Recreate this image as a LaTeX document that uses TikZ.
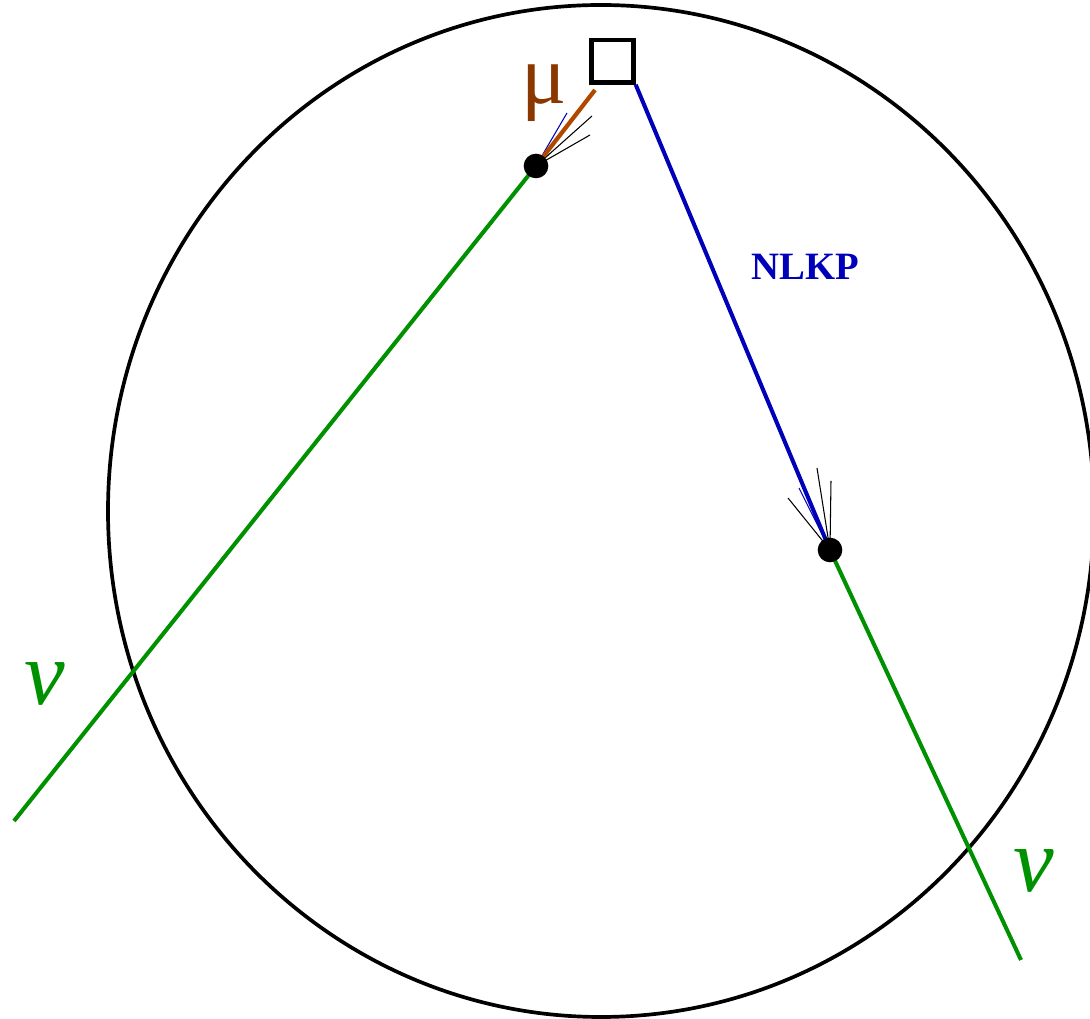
\documentclass[tikz,border=0pt]{standalone}
\usepackage{fontspec}
\setmainfont{Liberation Serif}
\begin{document}
\begin{tikzpicture}[x=0.01cm,y=-0.01cm,
  ring/.style={line width=1.05pt,black},
  nuline/.style={line width=1.15pt,draw={rgb,255:red,0;green,145;blue,0}},
  nlkpline/.style={line width=1.15pt,draw={rgb,255:red,0;green,0;blue,185}},
  muline/.style={line width=1.2pt,draw={rgb,255:red,176;green,72;blue,0}},
  thin/.style={line width=0.3pt,black},
  thinblue/.style={line width=0.3pt,draw={rgb,255:red,0;green,0;blue,185}},
  vtx/.style={circle,fill=black,inner sep=0pt,minimum size=7pt},
  nulabel/.style={text={rgb,255:red,0;green,145;blue,0},font=\itshape\fontsize{26}{26}\selectfont},
]
\useasboundingbox (0,0) rectangle (1090,1019);
\draw[ring] (601,511) ellipse [x radius=493, y radius=506];
\node[draw,line width=1.2pt,minimum size=12pt,inner sep=0pt] (box) at (612.5,61.5) {};
\coordinate (A) at (536,166);
\coordinate (B) at (830,550);
\coordinate (Lend) at (14,821);
\coordinate (Rend) at (1021,960);
\coordinate (Mend) at (595,90);
\coordinate (t1) at (567,113);
\coordinate (t2) at (592,116);
\coordinate (t3) at (590,135);
\coordinate (s1) at (788,498);
\coordinate (s2) at (799,488);
\coordinate (s3) at (817,468);
\coordinate (s4) at (831,481);
\draw[nlkpline] (box.south east) -- (B);
\draw[nuline] (A) -- (Lend);
\draw[nuline] (B) -- (Rend);
\draw[thinblue] (A) -- (t1);
\draw[thin] (A) -- (t2);
\draw[thin] (A) -- (t3);
\draw[muline] (A) -- (Mend);
\draw[thin] (B) -- (s1);
\draw[thinblue] (B) -- (s2);
\draw[thin] (B) -- (s3);
\draw[thin] (B) -- (s4);
\node[vtx] (va) at (A) {};
\node[vtx] (vb) at (B) {};
\node[text={rgb,255:red,139;green,55;blue,0},font=\fontsize{24}{24}\selectfont] (mu) at (544,93) {μ};
\node[nulabel] (nuL) at (45,684) {ν};
\node[nulabel] (nuR) at (1034,871) {ν};
\node[text={rgb,255:red,0;green,0;blue,185},font=\bfseries\fontsize{11}{11}\selectfont] (nlkp) at (805,267) {NLKP};
\end{tikzpicture}
\end{document}
